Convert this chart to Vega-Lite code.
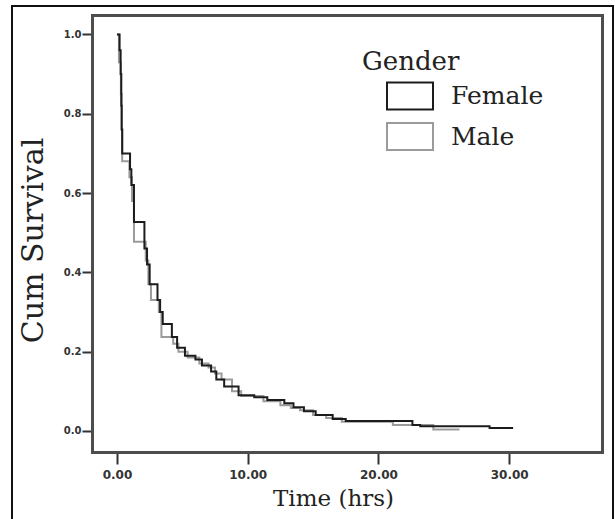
{
  "$schema": "https://vega.github.io/schema/vega-lite/v6.json",
  "width": 601,
  "height": 515,
  "autosize": "none",
  "padding": {"left": 12, "top": 6, "right": 2, "bottom": -2},
  "background": "white",
  "data": {
    "values": [
      {"gender": "Male", "time": 0, "surv": 1.0},
      {"gender": "Male", "time": 0.15, "surv": 0.93},
      {"gender": "Male", "time": 0.3, "surv": 0.85},
      {"gender": "Male", "time": 0.36, "surv": 0.76},
      {"gender": "Male", "time": 0.4, "surv": 0.68},
      {"gender": "Male", "time": 0.95, "surv": 0.64},
      {"gender": "Male", "time": 1.15, "surv": 0.58},
      {"gender": "Male", "time": 1.3, "surv": 0.477},
      {"gender": "Male", "time": 2.2, "surv": 0.43},
      {"gender": "Male", "time": 2.4, "surv": 0.37},
      {"gender": "Male", "time": 2.6, "surv": 0.33},
      {"gender": "Male", "time": 3.2, "surv": 0.30},
      {"gender": "Male", "time": 3.4, "surv": 0.237},
      {"gender": "Male", "time": 4.3, "surv": 0.22},
      {"gender": "Male", "time": 4.7, "surv": 0.20},
      {"gender": "Male", "time": 5.4, "surv": 0.185},
      {"gender": "Male", "time": 6.3, "surv": 0.17},
      {"gender": "Male", "time": 7.0, "surv": 0.16},
      {"gender": "Male", "time": 7.5, "surv": 0.145},
      {"gender": "Male", "time": 8.0, "surv": 0.13},
      {"gender": "Male", "time": 8.8, "surv": 0.10},
      {"gender": "Male", "time": 9.5, "surv": 0.088},
      {"gender": "Male", "time": 11.2, "surv": 0.075},
      {"gender": "Male", "time": 12.5, "surv": 0.065},
      {"gender": "Male", "time": 13.3, "surv": 0.058},
      {"gender": "Male", "time": 14.0, "surv": 0.052},
      {"gender": "Male", "time": 15.0, "surv": 0.04},
      {"gender": "Male", "time": 16.0, "surv": 0.033},
      {"gender": "Male", "time": 17.2, "surv": 0.023},
      {"gender": "Male", "time": 21.1, "surv": 0.015},
      {"gender": "Male", "time": 24.2, "surv": 0.004},
      {"gender": "Male", "time": 26.2, "surv": 0.004},
      {"gender": "Female", "time": 0, "surv": 1.0},
      {"gender": "Female", "time": 0.2, "surv": 0.96},
      {"gender": "Female", "time": 0.28, "surv": 0.90},
      {"gender": "Female", "time": 0.33, "surv": 0.82},
      {"gender": "Female", "time": 0.36, "surv": 0.76},
      {"gender": "Female", "time": 0.4, "surv": 0.70},
      {"gender": "Female", "time": 1.0, "surv": 0.66},
      {"gender": "Female", "time": 1.1, "surv": 0.62},
      {"gender": "Female", "time": 1.3, "surv": 0.527},
      {"gender": "Female", "time": 2.1, "surv": 0.46},
      {"gender": "Female", "time": 2.3, "surv": 0.42},
      {"gender": "Female", "time": 2.5, "surv": 0.37},
      {"gender": "Female", "time": 3.1, "surv": 0.33},
      {"gender": "Female", "time": 3.3, "surv": 0.30},
      {"gender": "Female", "time": 3.5, "surv": 0.27},
      {"gender": "Female", "time": 4.2, "surv": 0.237},
      {"gender": "Female", "time": 4.6, "surv": 0.21},
      {"gender": "Female", "time": 5.2, "surv": 0.19},
      {"gender": "Female", "time": 6.0, "surv": 0.18},
      {"gender": "Female", "time": 6.5, "surv": 0.165},
      {"gender": "Female", "time": 7.2, "surv": 0.15},
      {"gender": "Female", "time": 7.6, "surv": 0.13},
      {"gender": "Female", "time": 8.2, "surv": 0.112},
      {"gender": "Female", "time": 9.3, "surv": 0.09},
      {"gender": "Female", "time": 10.5, "surv": 0.085},
      {"gender": "Female", "time": 11.5, "surv": 0.078},
      {"gender": "Female", "time": 12.8, "surv": 0.07},
      {"gender": "Female", "time": 13.5, "surv": 0.06},
      {"gender": "Female", "time": 14.3, "surv": 0.05},
      {"gender": "Female", "time": 15.2, "surv": 0.04},
      {"gender": "Female", "time": 16.5, "surv": 0.03},
      {"gender": "Female", "time": 17.5, "surv": 0.025},
      {"gender": "Female", "time": 22.6, "surv": 0.015},
      {"gender": "Female", "time": 23.2, "surv": 0.012},
      {"gender": "Female", "time": 28.5, "surv": 0.0076},
      {"gender": "Female", "time": 30.3, "surv": 0.0076}
    ]
  },
  "layer": [
    {
      "transform": [{"filter": "datum.gender === 'Male'"}],
      "mark": {"type": "line", "interpolate": "step-after", "strokeWidth": 2},
      "encoding": {
        "x": {
          "field": "time",
          "type": "quantitative",
          "scale": {"domain": [-1.91, 37.1], "range": [80, 590], "nice": false, "zero": false},
          "axis": {
            "orient": "top",
            "offset": -9,
            "domain": true,
            "domainColor": "#4d4d4d",
            "domainWidth": 3,
            "domainCap": "square",
            "ticks": false,
            "labels": false,
            "grid": false,
            "title": null
          }
        },
        "y": {
          "field": "surv",
          "type": "quantitative",
          "scale": {"domain": [-0.053, 1.049], "range": [446, 9], "nice": false, "zero": false},
          "axis": {
            "orient": "right",
            "offset": -11,
            "domain": true,
            "domainColor": "#4d4d4d",
            "domainWidth": 3,
            "domainCap": "square",
            "ticks": false,
            "labels": false,
            "grid": false,
            "title": null
          }
        },
        "color": {
          "field": "gender",
          "type": "nominal",
          "scale": {"domain": ["Female", "Male"], "range": ["#1c1c1c", "#9b9b9b"]},
          "legend": {
            "title": "Gender",
            "orient": "none",
            "legendX": 350,
            "legendY": 43,
            "padding": 0,
            "titleFont": "DejaVu Serif",
            "titleFontSize": 26,
            "titleFontWeight": "normal",
            "titleColor": "#222222",
            "titleBaseline": "top",
            "titlePadding": 5,
            "labelFont": "DejaVu Serif",
            "labelFontSize": 25,
            "labelColor": "#222222",
            "symbolType": "M-1.5333,-0.9H1.5333V0.9H-1.5333Z",
            "symbolSize": 900,
            "symbolStrokeWidth": 2,
            "symbolFillColor": "transparent",
            "symbolOffset": 32,
            "labelOffset": 25,
            "rowPadding": 4.5
          }
        }
      }
    },
    {
      "transform": [{"filter": "datum.gender === 'Female'"}],
      "mark": {"type": "line", "interpolate": "step-after", "strokeWidth": 2},
      "encoding": {
        "x": {
          "field": "time",
          "type": "quantitative",
          "scale": {"domain": [-1.91, 37.1], "range": [80, 590], "nice": false, "zero": false},
          "axis": {
            "orient": "bottom",
            "offset": -69,
            "values": [0, 10, 20, 30],
            "format": ".2f",
            "domain": true,
            "domainColor": "#4d4d4d",
            "domainWidth": 3,
            "domainCap": "square",
            "grid": false,
            "tickSize": 12,
            "tickWidth": 2,
            "tickColor": "#333333",
            "labelFont": "DejaVu Sans",
            "labelFontWeight": "bold",
            "labelFontSize": 12,
            "labelColor": "#333333",
            "labelPadding": 5,
            "title": "Time (hrs)",
            "titleFont": "DejaVu Serif",
            "titleFontSize": 23,
            "titleFontWeight": "normal",
            "titleColor": "#222222",
            "titleX": 321,
            "titleY": 35,
            "titleBaseline": "top"
          }
        },
        "y": {
          "field": "surv",
          "type": "quantitative",
          "scale": {"domain": [-0.053, 1.049], "range": [446, 9], "nice": false, "zero": false},
          "axis": {
            "orient": "left",
            "offset": -80,
            "values": [0, 0.2, 0.4, 0.6, 0.8, 1.0],
            "format": ".1f",
            "domain": true,
            "domainColor": "#4d4d4d",
            "domainWidth": 3,
            "domainCap": "square",
            "grid": false,
            "tickSize": 10,
            "tickWidth": 2,
            "tickColor": "#333333",
            "labelFont": "DejaVu Sans",
            "labelFontWeight": "bold",
            "labelFontSize": 10,
            "labelColor": "#333333",
            "labelPadding": 1,
            "title": "Cum Survival",
            "titleFont": "DejaVu Serif",
            "titleFontSize": 30,
            "titleFontWeight": "normal",
            "titleColor": "#222222",
            "titlePadding": 15,
            "titleY": 234
          }
        },
        "color": {
          "field": "gender",
          "type": "nominal",
          "scale": {"domain": ["Female", "Male"], "range": ["#1c1c1c", "#9b9b9b"]},
          "legend": {
            "title": "Gender",
            "orient": "none",
            "legendX": 350,
            "legendY": 43,
            "padding": 0,
            "titleFont": "DejaVu Serif",
            "titleFontSize": 26,
            "titleFontWeight": "normal",
            "titleColor": "#222222",
            "titleBaseline": "top",
            "titlePadding": 5,
            "labelFont": "DejaVu Serif",
            "labelFontSize": 25,
            "labelColor": "#222222",
            "symbolType": "M-1.5333,-0.9H1.5333V0.9H-1.5333Z",
            "symbolSize": 900,
            "symbolStrokeWidth": 2,
            "symbolFillColor": "transparent",
            "symbolOffset": 32,
            "labelOffset": 25,
            "rowPadding": 4.5
          }
        }
      }
    }
  ],
  "resolve": {"axis": {"x": "independent", "y": "independent"}},
  "config": {
    "view": {"stroke": "#111111", "strokeWidth": 2}
  }
}
